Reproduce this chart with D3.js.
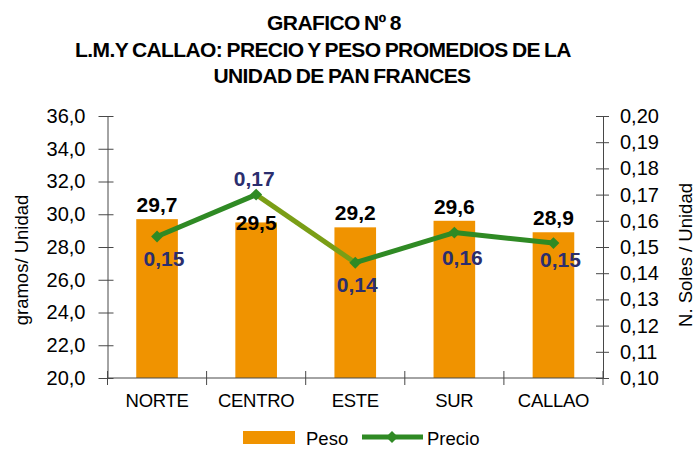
<!DOCTYPE html>
<html>
<head>
<meta charset="UTF-8">
<script src="https://cdnjs.cloudflare.com/ajax/libs/d3/7.8.5/d3.min.js"></script>
<style>
  body { margin: 0; background: #fff; }
  text { font-family: "Liberation Sans", Arial, sans-serif; }
</style>
</head>
<body>
<svg id="chart" width="695" height="452"></svg>
<script>
// data
var zonas = ["NORTE", "CENTRO", "ESTE", "SUR", "CALLAO"];
var peso = [29.7, 29.5, 29.2, 29.6, 28.9];
var precio = [0.154, 0.170, 0.144, 0.1555, 0.1515];
var precioLbl = ["0,15", "0,17", "0,14", "0,16", "0,15"];
var pesoTicks = [20, 22, 24, 26, 28, 30, 32, 34, 36];
var precioTicks = [0.10, 0.11, 0.12, 0.13, 0.14, 0.15, 0.16, 0.17, 0.18, 0.19, 0.20];
var titulo = ["GRAFICO Nº 8", "L.M.Y CALLAO: PRECIO Y PESO PROMEDIOS DE LA", "UNIDAD DE PAN FRANCES"];

var svg = d3.select("#chart");
var pLeft = 107.5, pRight = 603, pTop = 116, pBottom = 378;

var x = d3.scaleBand().domain(zonas).range([pLeft, pRight]).paddingInner(0.58).paddingOuter(0.29);
var xb = d3.scaleBand().domain(zonas).range([pLeft, pRight]);
var y = d3.scaleLinear().domain([20, 36]).range([pBottom, pTop]);
var y2 = d3.scaleLinear().domain([0.10, 0.20]).range([pBottom, pTop]);
var fmt = function (v, n) { return v.toFixed(n).replace(".", ","); };

// title
var titX = [334, 323, 342];
svg.selectAll(".tit").data(titulo).enter().append("text")
    .attr("x", function (d, i) { return titX[i]; })
    .attr("y", function (d, i) { return 30 + i * 26.5; })
    .attr("text-anchor", "middle")
    .style("font-size", "21px").style("font-weight", "bold")
    .style("letter-spacing", "-0.6px").style("word-spacing", "-1px")
    .text(function (d) { return d; });

// bars
svg.selectAll(".bar").data(zonas).enter().append("rect")
    .attr("x", function (d) { return x(d); })
    .attr("width", x.bandwidth())
    .attr("y", function (d, i) { return y(peso[i]); })
    .attr("height", function (d, i) { return pBottom - y(peso[i]); })
    .attr("fill", "#F09300");

// axes
var axL = svg.append("g").attr("transform", "translate(" + pLeft + ",0)")
    .call(d3.axisLeft(y).tickValues(pesoTicks).tickFormat(function (d) { return fmt(d, 1); }).tickSize(7).tickSizeOuter(0));
axL.selectAll(".tick line").attr("x1", -9).attr("x2", 6);
axL.selectAll(".tick text").attr("x", -22);

var axR = svg.append("g").attr("transform", "translate(" + pRight + ",0)")
    .call(d3.axisRight(y2).tickValues(precioTicks).tickFormat(function (d) { return fmt(d, 2); }).tickSize(7).tickSizeOuter(0));
axR.selectAll(".tick line").attr("x1", -7).attr("x2", 6);
axR.selectAll(".tick text").attr("x", 17);

var axB = svg.append("g").attr("transform", "translate(0," + pBottom + ")");
axB.append("line").attr("x1", pLeft).attr("x2", pRight);
axB.selectAll(".bt").data(zonas.concat([null])).enter().append("line")
    .attr("x1", function (d, i) { return pLeft + i * xb.step(); })
    .attr("x2", function (d, i) { return pLeft + i * xb.step(); })
    .attr("y1", -7).attr("y2", 7);
axB.selectAll("text").data(zonas).enter().append("text")
    .attr("x", function (d) { return xb(d) + xb.bandwidth() / 2; })
    .attr("y", 29).attr("text-anchor", "middle")
    .style("font-size", "18.5px").style("letter-spacing", "-0.3px")
    .text(function (d) { return d; });
axB.selectAll("line").attr("stroke", "#484848");

[axL, axR].forEach(function (a) {
    a.select(".domain").attr("stroke", "#484848");
    a.selectAll(".tick line").attr("stroke", "#484848");
    a.selectAll(".tick text").attr("fill", "#000").style("font-size", "20px")
        .style("font-family", "Liberation Sans, Arial, sans-serif");
});

// axis titles
svg.append("text").attr("transform", "translate(28,260) rotate(-90)")
    .attr("text-anchor", "middle").style("font-size", "18.5px")
    .text("gramos/ Unidad");
svg.append("text").attr("transform", "translate(692,255) rotate(-90)")
    .attr("text-anchor", "middle").style("font-size", "18.5px")
    .text("N. Soles / Unidad");

// precio line
var cx = function (i) { return xb(zonas[i]) + xb.bandwidth() / 2; };
var segColors = ["#2f8a24", "#7a9e16", "#2f8a24", "#2f8a24"];
for (var i = 0; i < precio.length - 1; i++) {
    svg.append("line")
        .attr("x1", cx(i)).attr("y1", y2(precio[i]))
        .attr("x2", cx(i + 1)).attr("y2", y2(precio[i + 1]))
        .attr("stroke", segColors[i]).attr("stroke-width", 5);
}
svg.selectAll(".pt").data(precio).enter().append("path")
    .attr("d", d3.symbol().type(d3.symbolDiamond2).size(90))
    .attr("transform", function (d, i) { return "translate(" + cx(i) + "," + y2(d) + ")"; })
    .attr("fill", "#2f8a24");

// labels
var pesoDy = [-7, 8, -7, -7, -7];
svg.selectAll(".pl").data(peso).enter().append("text")
    .attr("x", function (d, i) { return cx(i); })
    .attr("y", function (d, i) { return y(d) + pesoDy[i]; })
    .attr("text-anchor", "middle")
    .style("font-size", "21px").style("font-weight", "bold")
    .text(function (d) { return fmt(d, 1); });

var precioDx = [7, -2, 2, 8, 7];
var precioDy = [29, -9, 29, 32, 24];
svg.selectAll(".prl").data(precio).enter().append("text")
    .attr("x", function (d, i) { return cx(i) + precioDx[i]; })
    .attr("y", function (d, i) { return y2(d) + precioDy[i]; })
    .attr("text-anchor", "middle")
    .style("font-size", "21px").style("font-weight", "bold").attr("fill", "#2b2e6e")
    .text(function (d, i) { return precioLbl[i]; });

// legend
var lg = svg.append("g");
lg.append("rect").attr("x", 243).attr("y", 431).attr("width", 52).attr("height", 13).attr("fill", "#F09300");
lg.append("text").attr("x", 306).attr("y", 445).style("font-size", "18.5px").text("Peso");
lg.append("line").attr("x1", 362).attr("x2", 423).attr("y1", 437).attr("y2", 437)
    .attr("stroke", "#2f8a24").attr("stroke-width", 5);
lg.append("path").attr("d", d3.symbol().type(d3.symbolDiamond2).size(90))
    .attr("transform", "translate(392,437)").attr("fill", "#2f8a24");
lg.append("text").attr("x", 427).attr("y", 445).style("font-size", "18.5px").text("Precio");
</script>
</body>
</html>
